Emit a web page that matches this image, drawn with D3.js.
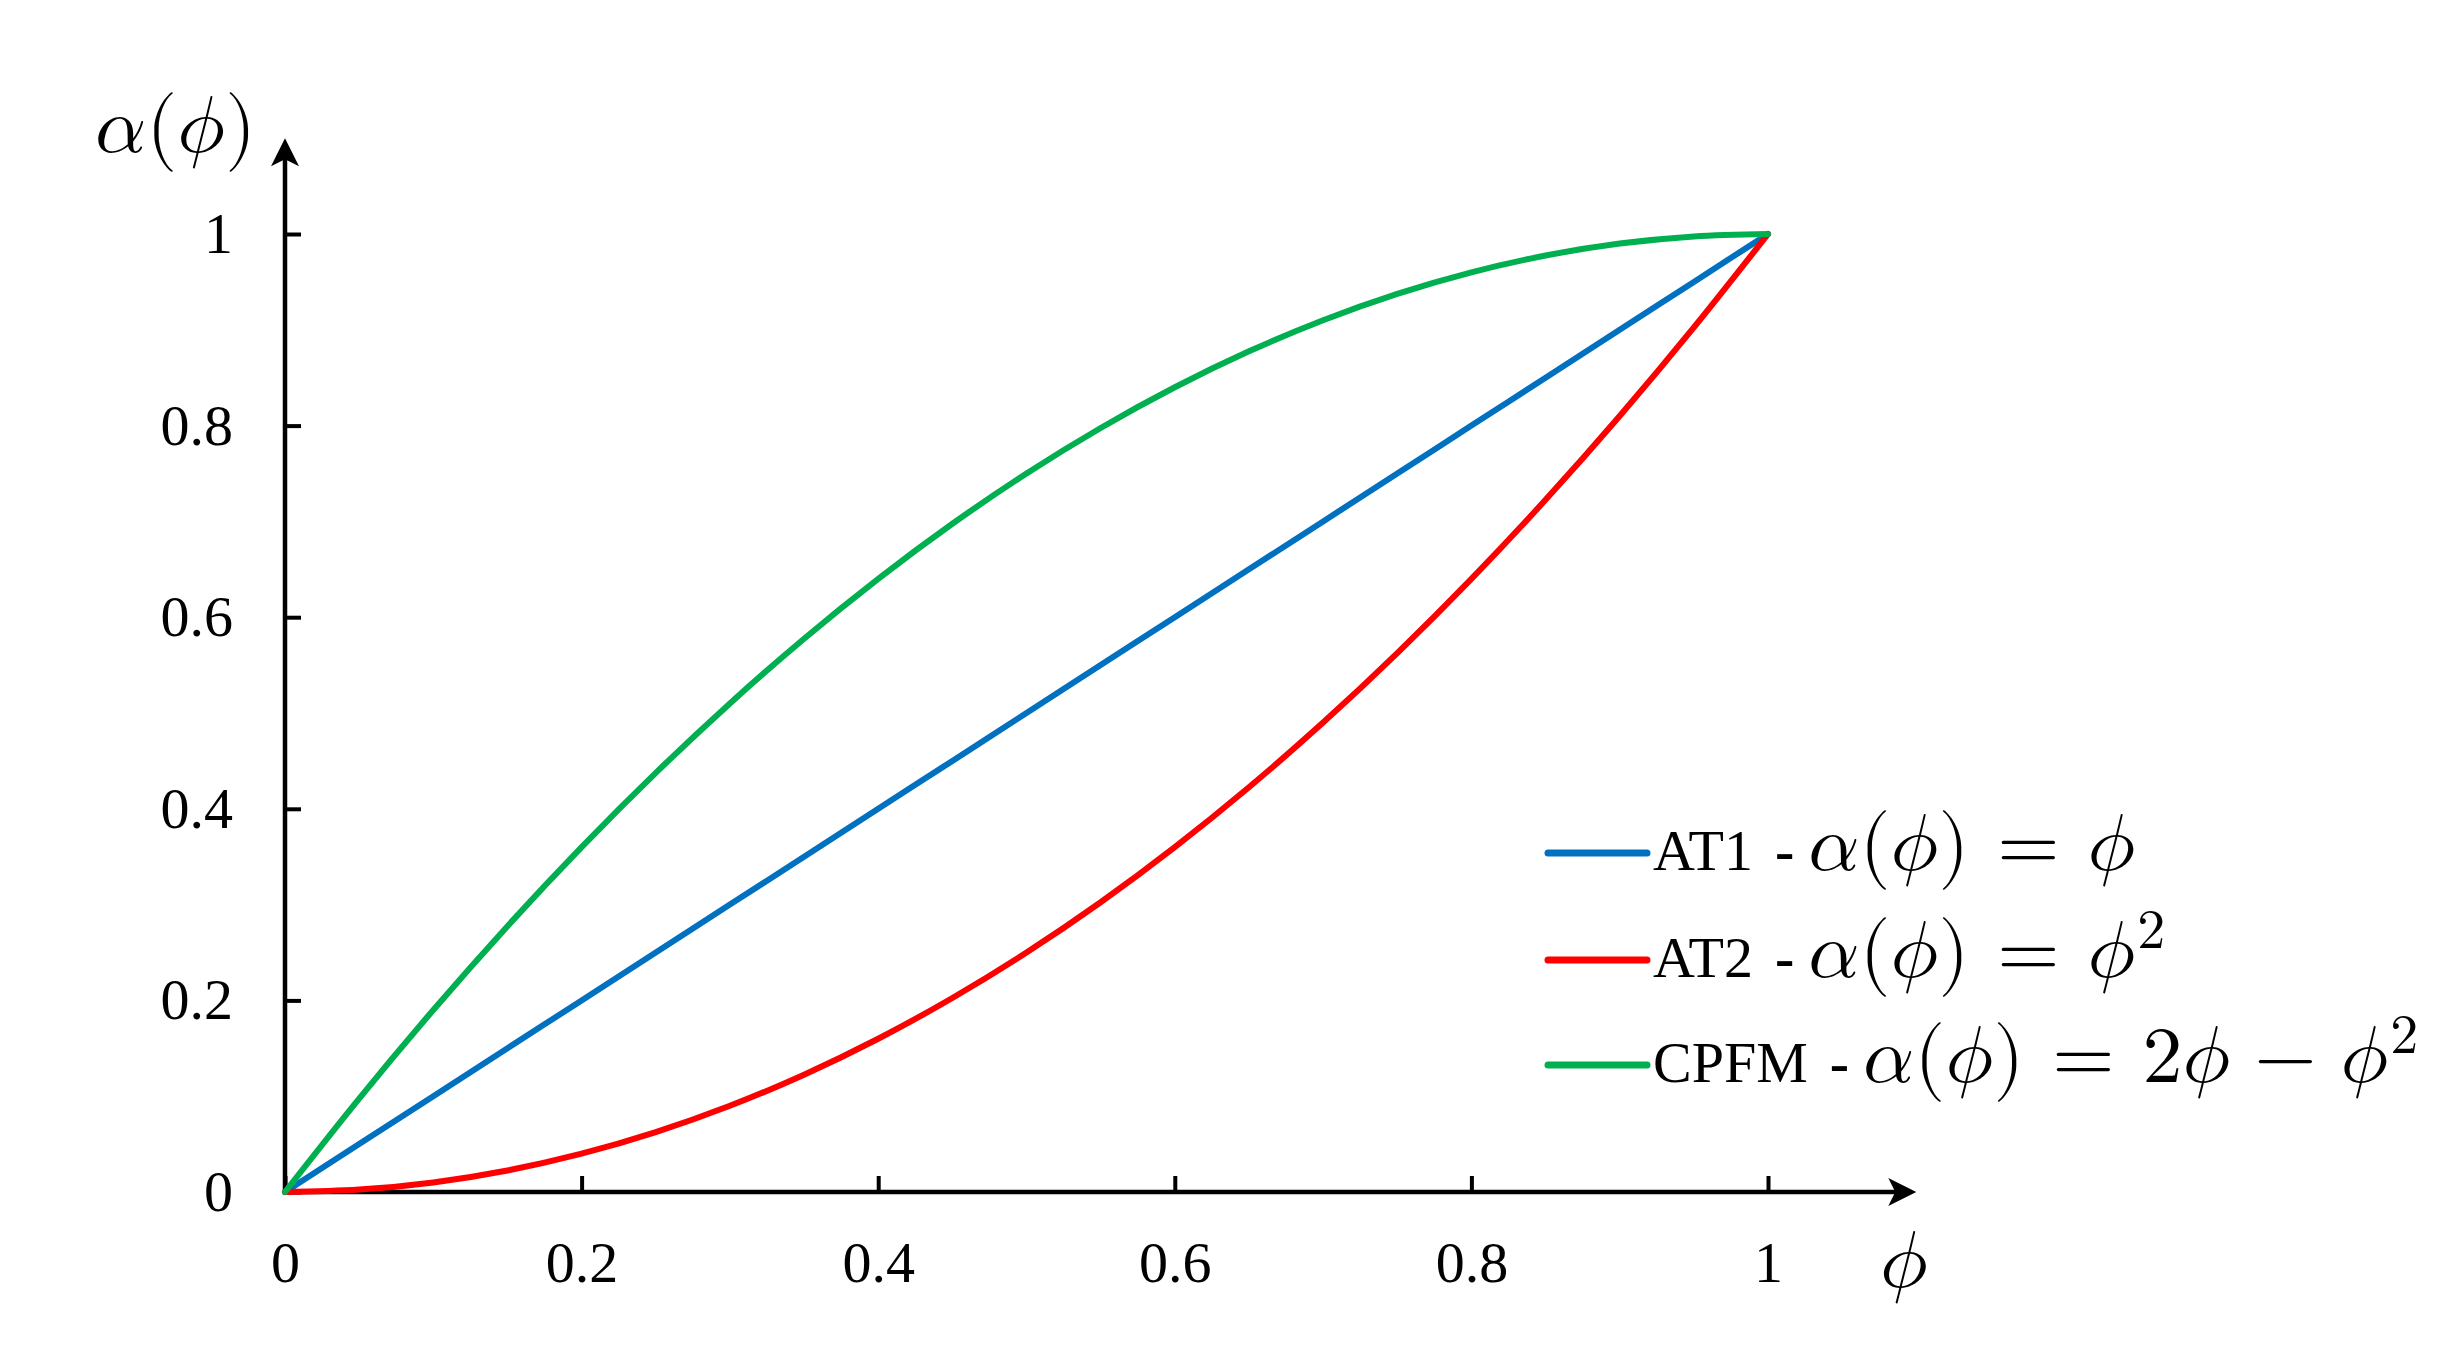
<!DOCTYPE html>
<html>
<head>
<meta charset="utf-8">
<script src="https://cdn.jsdelivr.net/npm/d3@7"></script>
<style>
  body { margin: 0; background: #fff; }
  text { font-family: "Liberation Serif", "Times New Roman", serif; fill: #000; }
  .math { font-family: "Latin Modern Math", "Liberation Serif", serif; }
</style>
</head>
<body>
<svg id="chart" width="2451" height="1364"></svg>
<script>
// values
const phi  = [0, 0.05, 0.1, 0.15, 0.2, 0.25, 0.3, 0.35, 0.4, 0.45, 0.5, 0.55, 0.6, 0.65, 0.7, 0.75, 0.8, 0.85, 0.9, 0.95, 1];
const at1  = [0, 0.05, 0.1, 0.15, 0.2, 0.25, 0.3, 0.35, 0.4, 0.45, 0.5, 0.55, 0.6, 0.65, 0.7, 0.75, 0.8, 0.85, 0.9, 0.95, 1];
const at2  = [0, 0.0025, 0.01, 0.0225, 0.04, 0.0625, 0.09, 0.1225, 0.16, 0.2025, 0.25, 0.3025, 0.36, 0.4225, 0.49, 0.5625, 0.64, 0.7225, 0.81, 0.9025, 1];
const cpfm = [0, 0.0975, 0.19, 0.2775, 0.36, 0.4375, 0.51, 0.5775, 0.64, 0.6975, 0.75, 0.7975, 0.84, 0.8775, 0.91, 0.9375, 0.96, 0.9775, 0.99, 0.9975, 1];

const xTicks = [0, 0.2, 0.4, 0.6, 0.8, 1];
const yTicks = [0, 0.2, 0.4, 0.6, 0.8, 1];
const tickLabels = ['0', '0.2', '0.4', '0.6', '0.8', '1'];

const seriesNames  = ['AT1', 'AT2', 'CPFM'];
const seriesValues = [at1, at2, cpfm];
const seriesColors = ['#0070C0', '#FF0000', '#00B050'];

// math pieces: [text, superscript?, space before]
const yTitleMath = [['𝛼', 0, 0], ['(', 0, 0], ['𝜙', 0, 0], [')', 0, 0]];
const xTitleMath = [['𝜙', 0, 0]];
const legendFormulas = [
  [['𝛼', 0, 0], ['(', 0, 0], ['𝜙', 0, 0], [')', 0, 0], ['=', 0, 28], ['𝜙', 0, 28]],
  [['𝛼', 0, 0], ['(', 0, 0], ['𝜙', 0, 0], [')', 0, 0], ['=', 0, 28], ['𝜙', 0, 28], ['2', 1, 2]],
  [['𝛼', 0, 0], ['(', 0, 0], ['𝜙', 0, 0], [')', 0, 0], ['=', 0, 28], ['2', 0, 28], ['𝜙', 0, 0], ['−', 0, 24], ['𝜙', 0, 24], ['2', 1, 2]]
];

const svg = d3.select('#chart');
const x = d3.scaleLinear().domain([0, 1]).range([285, 1768]);
const y = d3.scaleLinear().domain([0, 1]).range([1192, 234]);
const axisEnd = 1.1;

// x axis
const gx = svg.append('g')
  .attr('transform', `translate(0,${y(0)})`)
  .call(d3.axisBottom(x).tickValues(xTicks).tickSize(-16).tickFormat((d, i) => tickLabels[i]));
gx.select('.domain').remove();
gx.selectAll('.tick line').attr('stroke', '#000').attr('stroke-width', 4);
gx.selectAll('.tick text').attr('y', 49).attr('dy', '0.71em').style('font-size', '58px');

// y axis
const gy = svg.append('g')
  .attr('transform', `translate(${x(0)},0)`)
  .call(d3.axisLeft(y).tickValues(yTicks).tickSize(-16).tickFormat((d, i) => tickLabels[i]));
gy.select('.domain').remove();
gy.selectAll('.tick line').attr('stroke', '#000').attr('stroke-width', 4);
gy.selectAll('.tick text').attr('x', -52).attr('dy', '0.32em').style('font-size', '58px');

// axis lines with arrows
const ax = svg.append('g');
ax.append('line')
  .attr('x1', x(0)).attr('y1', y(0))
  .attr('x2', x(axisEnd) - 20).attr('y2', y(0))
  .attr('stroke', '#000').attr('stroke-width', 4.5);
ax.append('line')
  .attr('x1', x(0)).attr('y1', y(0) + 2)
  .attr('x2', x(0)).attr('y2', y(axisEnd) + 20)
  .attr('stroke', '#000').attr('stroke-width', 4.5);

const tipX = [x(axisEnd), y(0)];
ax.append('path')
  .attr('d', `M${tipX[0]},${tipX[1]} L${tipX[0] - 28},${tipX[1] - 14} L${tipX[0] - 21},${tipX[1]} L${tipX[0] - 28},${tipX[1] + 14} Z`)
  .attr('fill', '#000');
const tipY = [x(0), y(axisEnd)];
ax.append('path')
  .attr('d', `M${tipY[0]},${tipY[1]} L${tipY[0] - 14},${tipY[1] + 28} L${tipY[0]},${tipY[1] + 21} L${tipY[0] + 14},${tipY[1] + 28} Z`)
  .attr('fill', '#000');

function addMath(t, parts, size) {
  let raised = false;
  parts.forEach(p => {
    const s = t.append('tspan').attr('class', 'math').text(p[0]);
    if (p[1]) {
      s.style('font-size', (size * 0.7) + 'px').attr('dy', -size * 0.36);
      raised = true;
    } else {
      s.style('font-size', size + 'px');
      if (raised) { s.attr('dy', size * 0.36); raised = false; }
    }
    if (p[2]) s.attr('dx', p[2]);
  });
}

// axis titles
const yTitle = svg.append('text').attr('x', 95).attr('y', 152);
addMath(yTitle, yTitleMath, 80);
const xTitle = svg.append('text').attr('x', 1880).attr('y', 1287);
addMath(xTitle, xTitleMath, 80);

// curves
const line = d3.line()
  .x((d, i) => x(phi[i]))
  .y(d => y(d))
  .curve(d3.curveMonotoneX);

svg.append('g').selectAll('path')
  .data(seriesValues)
  .join('path')
  .attr('d', d => line(d))
  .attr('fill', 'none')
  .attr('stroke', (d, i) => seriesColors[i])
  .attr('stroke-width', 6)
  .attr('stroke-linejoin', 'round')
  .attr('stroke-linecap', 'round');

// legend
const legendBase = [870, 977, 1082];
const leg = svg.append('g');
seriesNames.forEach((name, i) => {
  const by = legendBase[i];
  leg.append('line')
    .attr('x1', 1548).attr('x2', 1647)
    .attr('y1', by - 17).attr('y2', by - 17)
    .attr('stroke', seriesColors[i]).attr('stroke-width', 7).attr('stroke-linecap', 'round');
  const t = leg.append('text').attr('x', 1653).attr('y', by);
  t.append('tspan').text(name).style('font-size', '58px');
  t.append('tspan').text('-').attr('dx', 22).style('font-size', '58px').style('font-weight', 'bold');
  const m = t.append('tspan').attr('dx', 14);
  addMath(m, legendFormulas[i], 80);
});
</script>
</body>
</html>
